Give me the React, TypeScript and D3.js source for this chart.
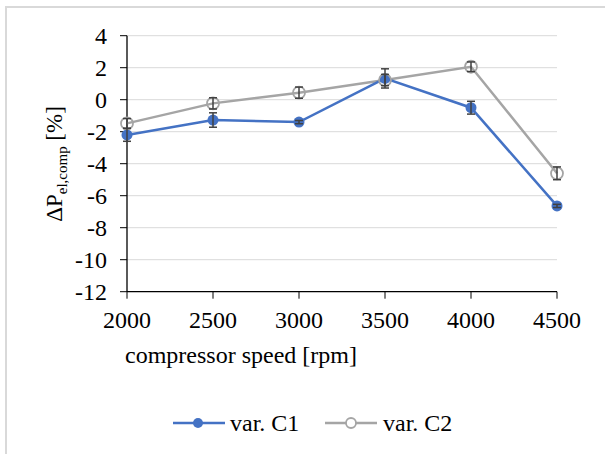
import React from "react";
import * as d3 from "d3";

const speeds = [2000, 2500, 3000, 3500, 4000, 4500];
const c1Values = [-2.2, -1.27, -1.4, 1.33, -0.5, -6.64];
const c1Errors = [0.4, 0.45, 0.1, 0.6, 0.4, 0.1];
const c2Values = [-1.48, -0.23, 0.44, 1.23, 2.06, -4.6];
const c2Errors = [0.3, 0.35, 0.35, 0.35, 0.3, 0.4];
const yTicks = [-12, -10, -8, -6, -4, -2, 0, 2, 4];
const xTicks = [2000, 2500, 3000, 3500, 4000, 4500];

const FONT = "'Liberation Serif', 'Times New Roman', 'DejaVu Serif', serif";
const BLUE = "#4472c4";
const GRAY = "#a5a5a5";
const ERR = "#404040";

export default function App() {
  const W = 605;
  const H = 454;
  const x = d3.scaleLinear().domain([2000, 4500]).range([127, 557]);
  const y = d3.scaleLinear().domain([-12, 4]).range([291.7, 35.7]);
  const line = d3
    .line<number>()
    .x((_, i) => x(speeds[i]))
    .y((d) => y(d));

  const errBars = (vals: number[], errs: number[], key: string) =>
    vals.map((v, i) => {
      const cx = x(speeds[i]);
      const y1 = y(v + errs[i]);
      const y2 = y(v - errs[i]);
      return (
        <g key={key + i} stroke={ERR} strokeWidth={1.5}>
          <line x1={cx} x2={cx} y1={y1} y2={y2} />
          <line x1={cx - 4} x2={cx + 4} y1={y1} y2={y1} />
          <line x1={cx - 4} x2={cx + 4} y1={y2} y2={y2} />
        </g>
      );
    });

  const txt = { fontFamily: FONT, fill: "#000" } as const;

  return (
    <svg
      width={W}
      height={H}
      style={{ position: "absolute", left: 0, top: 0, background: "#fff", fontFamily: FONT }}
    >
      <rect x={0} y={0} width={W} height={H} fill="#fff" />
      {/* chart border */}
      <line x1={6} x2={6} y1={6} y2={H} stroke="#d9d9d9" strokeWidth={2} />
      <line x1={5} x2={W} y1={7} y2={7} stroke="#d9d9d9" strokeWidth={2} />

      {/* gridlines */}
      {yTicks
        .filter((t) => t !== -12)
        .map((t) => (
          <line
            key={"g" + t}
            x1={x(2000)}
            x2={x(4500)}
            y1={y(t)}
            y2={y(t)}
            stroke="#d9d9d9"
            strokeWidth={1}
          />
        ))}

      {/* axes */}
      <line x1={x(2000)} x2={x(2000)} y1={y(4)} y2={y(-12)} stroke="#000" strokeWidth={1.3} />
      <line x1={x(2000)} x2={x(4500)} y1={y(-12)} y2={y(-12)} stroke="#000" strokeWidth={1.3} />
      {yTicks.map((t) => (
        <g key={"yt" + t}>
          <line x1={x(2000) - 7} x2={x(2000)} y1={y(t)} y2={y(t)} stroke="#000" strokeWidth={1} />
          <text x={107} y={y(t)} dy="0.35em" textAnchor="end" fontSize={24} style={txt}>
            {t}
          </text>
        </g>
      ))}
      {xTicks.map((t) => (
        <g key={"xt" + t}>
          <line x1={x(t)} x2={x(t)} y1={y(-12)} y2={y(-12) + 7} stroke="#000" strokeWidth={1} />
          <text x={x(t)} y={328} textAnchor="middle" fontSize={24} style={txt}>
            {t}
          </text>
        </g>
      ))}

      {/* axis titles */}
      <text x={241} y={363} textAnchor="middle" fontSize={24} style={txt}>
        compressor speed [rpm]
      </text>
      <text
        transform={`translate(62,164) rotate(-90)`}
        textAnchor="middle"
        fontSize={23}
        style={txt}
      >
        ΔP
        <tspan fontSize={15} dy={5}>el,comp</tspan>
        <tspan dy={-5}> [%]</tspan>
      </text>

      {/* series C2 */}
      <path d={line(c2Values) || ""} fill="none" stroke={GRAY} strokeWidth={2.5} />
      {/* series C1 */}
      <path d={line(c1Values) || ""} fill="none" stroke={BLUE} strokeWidth={2.5} />
      {c1Values.map((v, i) => (
        <circle key={"c1" + i} cx={x(speeds[i])} cy={y(v)} r={5.5} fill={BLUE} />
      ))}
      {c2Values.map((v, i) => (
        <circle
          key={"c2" + i}
          cx={x(speeds[i])}
          cy={y(v)}
          r={6}
          fill="none"
          stroke={GRAY}
          strokeWidth={1.8}
        />
      ))}
      {errBars(c1Values, c1Errors, "e1")}
      {errBars(c2Values, c2Errors, "e2")}

      {/* legend */}
      <g>
        <line x1={173} x2={225} y1={423} y2={423} stroke={BLUE} strokeWidth={2.5} />
        <circle cx={198} cy={423} r={5} fill={BLUE} />
        <text x={230} y={423} dy="0.35em" fontSize={24} style={txt}>
          var. C1
        </text>
        <line x1={325} x2={377} y1={423} y2={423} stroke={GRAY} strokeWidth={2.5} />
        <circle cx={351} cy={423} r={5} fill="#fff" stroke={GRAY} strokeWidth={1.8} />
        <text x={383} y={423} dy="0.35em" fontSize={24} style={txt}>
          var. C2
        </text>
      </g>
    </svg>
  );
}
